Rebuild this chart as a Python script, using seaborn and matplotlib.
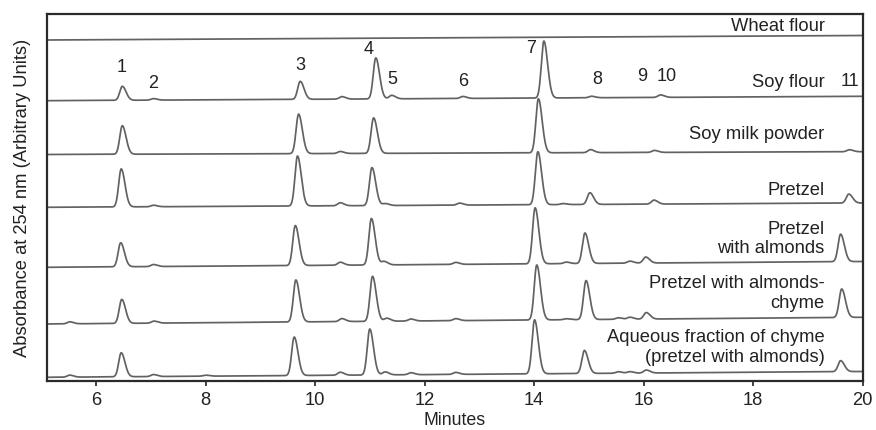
import numpy as np
import pandas as pd
import matplotlib
matplotlib.use("Agg")
import matplotlib.pyplot as plt
import seaborn as sns

# ---------------- data ----------------
samples = ["Wheat flour", "Soy flour", "Soy milk powder", "Pretzel",
           "Pretzel\nwith almonds", "Pretzel with almonds-\nchyme",
           "Aqueous fraction of chyme\n(pretzel with almonds)"]

# baseline (arbitrary units) at the left / right end of each trace
baseline_left = [340.7, 280.0, 226.2, 173.4, 113.4, 56.7, 3.4]
baseline_right = [345.2, 284.4, 229.0, 177.7, 119.2, 63.4, 9.2]

# peak retention times (min) and heights (arbitrary units)
rt_wheat = []
h_wheat = []
rt_soyflour = [6.48, 7.05, 9.73, 10.49, 11.11, 11.40, 12.70, 14.18, 15.05, 16.31]
h_soyflour = [14, 1.5, 18, 2.5, 41, 3.5, 2, 57, 1.5, 2.5]
rt_soymilk = [6.48, 9.70, 10.46, 11.07, 14.08, 15.03, 16.20, 19.76]
h_soymilk = [28.5, 39.5, 2, 35.5, 54, 3, 2, 2]
rt_pretzel = [6.46, 7.05, 9.68, 10.46, 11.04, 11.28, 12.64, 14.07, 14.53, 15.02, 16.19, 19.75]
h_pretzel = [38, 1.5, 50, 3, 38, 2, 2, 53, 1, 11.7, 4, 9]
rt_almond = [6.45, 7.05, 9.64, 10.46, 11.03, 11.26, 12.57, 14.02, 14.59, 14.93, 15.75, 16.04, 19.60]
h_almond = [24, 2, 40, 3, 46.5, 3.5, 2, 56, 1.5, 30.5, 2, 6, 27.5]
rt_chyme = [5.52, 6.47, 7.06, 9.65, 10.49, 11.05, 11.31, 11.75, 12.57, 14.05, 14.59, 14.95,
            15.54, 15.75, 16.05, 19.62]
h_chyme = [2, 24, 2, 42, 3, 45, 3, 2, 2, 55, 1, 39, 1.5, 2, 6.5, 28.5]
rt_aqueous = [5.52, 6.46, 7.05, 8.00, 9.62, 10.46, 11.00, 11.28, 11.75, 12.57, 14.01, 14.92,
              15.54, 15.75, 16.05, 19.60]
h_aqueous = [2, 24, 2, 1, 38.5, 3, 46, 3, 2, 2, 54, 23, 1.5, 1.5, 3, 11]

peak_rt = [rt_wheat, rt_soyflour, rt_soymilk, rt_pretzel, rt_almond, rt_chyme, rt_aqueous]
peak_h = [h_wheat, h_soyflour, h_soymilk, h_pretzel, h_almond, h_chyme, h_aqueous]

# peak numbers (soy flour trace)
peak_labels = ["1", "2", "3", "4", "5", "6", "7", "8", "9", "10", "11"]
peak_label_x = [6.475, 7.04, 9.73, 10.97, 11.42, 12.70, 13.95, 15.16, 15.97, 16.42, 19.77]
peak_label_y = [313.7, 297.7, 315.7, 331.7, 301.7, 300.0, 333.4, 301.7, 304.7, 304.7, 300.0]

# sample label vertical positions
sample_label_y = [354.7, 298.7, 246.7, 191.0, 142.7, 88.4, 34.2]

xticks = [6, 8, 10, 12, 14, 16, 18, 20]

# ---------------- build the traces ----------------
t = np.linspace(5.11, 20.0, 3000)
sig_l, sig_r = 0.046, 0.068
rows = []
for name, bl, br, rts, hs in zip(samples, baseline_left, baseline_right, peak_rt, peak_h):
    y = np.interp(t, [t[0], t[-1]], [bl, br])
    for c, h in zip(rts, hs):
        s = np.where(t < c, sig_l, sig_r)
        y = y + h * np.exp(-0.5 * ((t - c) / s) ** 2)
    rows.append(pd.DataFrame({"Minutes": t, "Absorbance": y, "Sample": name}))
df = pd.concat(rows, ignore_index=True)

# ---------------- plot ----------------
sns.set_theme(style="white")
plt.rcParams["font.family"] = ["Liberation Sans", "DejaVu Sans"]

fig = plt.figure(figsize=(8.76, 4.31), dpi=100)
ax = fig.add_axes([0.054, 0.1144, 0.9306, 0.8508])

sns.lineplot(data=df, x="Minutes", y="Absorbance", hue="Sample",
             palette=["#626262"] * len(samples), estimator=None, sort=False,
             legend=False, linewidth=1.25, ax=ax)

ax.set_xlim(5.11, 20.0)
ax.set_ylim(0, 366.7)
ax.set_xticks(xticks)
ax.set_xticklabels([str(v) for v in xticks], fontsize=13.2, color="#222222")
ax.set_yticks([])
ax.tick_params(axis="x", direction="out", length=3.5, width=1.2, color="#222222",
               pad=4, bottom=True)
for sp in ax.spines.values():
    sp.set_linewidth(1.6)
    sp.set_color("#2a2a2a")
ax.set_xlabel("Minutes", fontsize=12.8, color="#222222", labelpad=2)
ax.set_ylabel("Absorbance at 254 nm (Arbitrary Units)", fontsize=13.2,
              color="#222222", labelpad=12)

for lab, x, y in zip(peak_labels, peak_label_x, peak_label_y):
    ax.text(x, y, lab, ha="center", va="center", fontsize=13, color="#222222")

for lab, y in zip(samples, sample_label_y):
    ax.text(19.31, y, lab, ha="right", va="center", multialignment="right",
            fontsize=13.2, color="#222222", linespacing=1.2)

fig.savefig("out.png", dpi=100)
